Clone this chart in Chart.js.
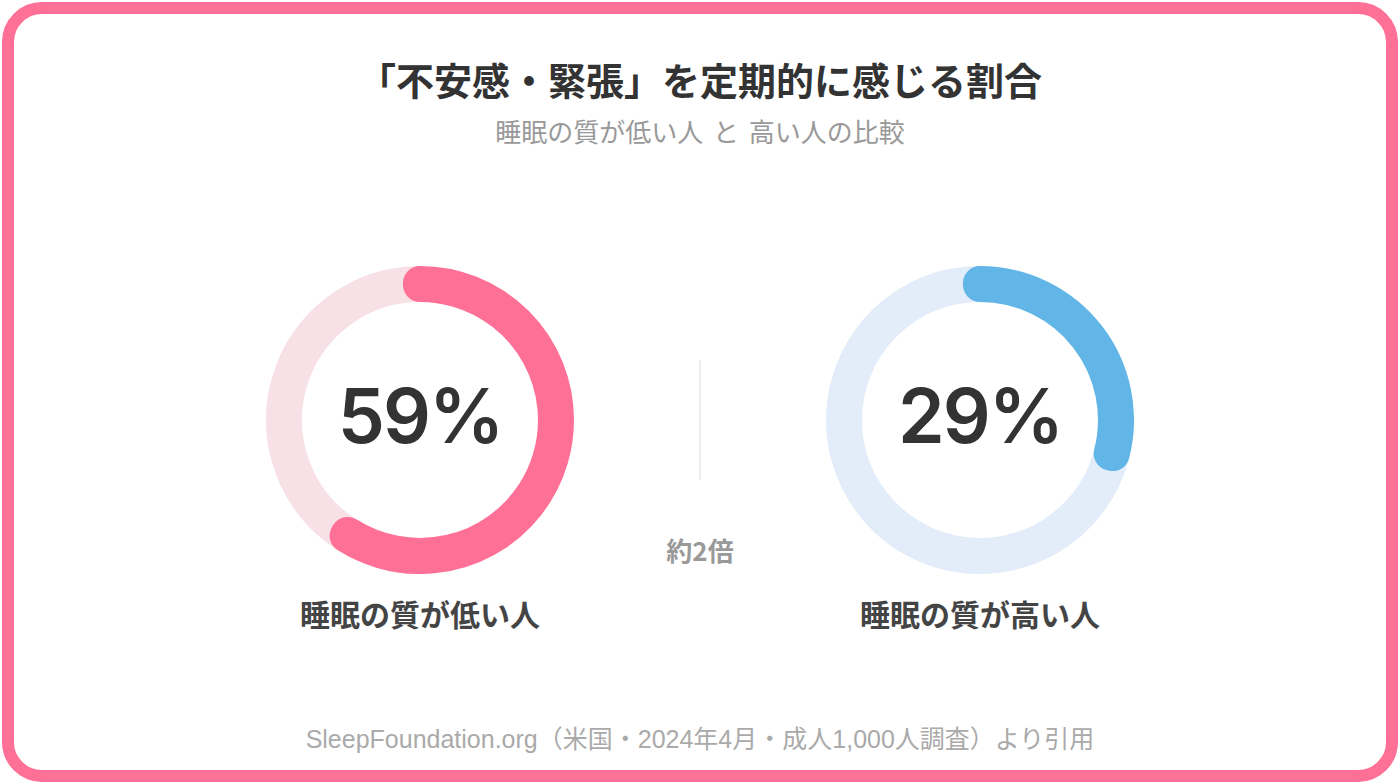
<!DOCTYPE html>
<html lang="ja">
<head>
<meta charset="utf-8">
<script src="https://cdn.jsdelivr.net/npm/chart.js@4.4.1/dist/chart.umd.min.js"></script>
<style>
  html, body { margin: 0; padding: 0; width: 1400px; height: 784px; background: #fff; overflow: hidden; }
  body { position: relative; font-family: "Noto Sans CJK JP", "Noto Sans", sans-serif; }
  .frame { position: absolute; left: 2px; top: 2px; width: 1372px; height: 756px; border: 12px solid #FF7096; border-radius: 40px; }
  .txt { position: absolute; left: 0; width: 1400px; text-align: center; white-space: nowrap; }
  #title { top: 54px; font-size: 38px; line-height: 50px; font-weight: 700; color: #333; }
  #subtitle { top: 113px; font-size: 26px; line-height: 36px; font-weight: 400; color: #999; word-spacing: 4px; }
  .ring { position: absolute; top: 266px; width: 308px; height: 308px; }
  .ring canvas { position: absolute; left: 0; top: 0; }
  .pct { position: absolute; left: 0; top: 0; width: 308px; line-height: 300px; text-align: center;
         font-family: Inter, "Liberation Sans", sans-serif; font-weight: 600; font-size: 75px; color: #333; letter-spacing: -2px; }
  .label { position: absolute; top: 591px; width: 400px; text-align: center; font-size: 30px; line-height: 44px; font-weight: 700; color: #444; }
  #divider { position: absolute; left: 699px; top: 360px; width: 2px; height: 120px; background: #eeeeee; }
  #ratio { position: absolute; left: 600px; top: 532px; width: 200px; text-align: center; font-size: 26px; line-height: 36px; font-weight: 700; color: #999; }
  #source { top: 722px; font-family: "Liberation Sans", "Noto Sans CJK JP", sans-serif; font-size: 25px; line-height: 34px; color: #aaa; }
</style>
</head>
<body>
<div class="frame"></div>
<div class="txt" id="title"></div>
<div class="txt" id="subtitle"></div>
<div id="divider"></div>
<div id="ratio"></div>
<div class="txt" id="source"></div>
<script>
// data
const titleText = '「不安感・緊張」を定期的に感じる割合';
const subtitleText = '睡眠の質が低い人 と 高い人の比較';
const groups = ['睡眠の質が低い人', '睡眠の質が高い人'];
const percentages = [59, 29];
const ratioText = '約2倍';
const sourceText = 'SleepFoundation.org（米国・2024年4月・成人1,000人調査）より引用';

const mainColors = ['#FF7096', '#62B6E7'];
const trackColors = ['#F7E1E7', '#E3EDF9'];
const centersX = [420, 980];

document.getElementById('title').textContent = titleText;
document.getElementById('subtitle').textContent = subtitleText;
document.getElementById('ratio').textContent = ratioText;
document.getElementById('source').textContent = sourceText;

groups.forEach((name, i) => {
  const pct = percentages[i];
  const wrap = document.createElement('div');
  wrap.className = 'ring';
  wrap.style.left = (centersX[i] - 154) + 'px';
  const canvas = document.createElement('canvas');
  canvas.width = 308; canvas.height = 308;
  wrap.appendChild(canvas);
  const center = document.createElement('div');
  center.className = 'pct';
  center.textContent = pct + '%';
  wrap.appendChild(center);
  document.body.appendChild(wrap);

  const lab = document.createElement('div');
  lab.className = 'label';
  lab.style.left = (centersX[i] - 200) + 'px';
  lab.textContent = name;
  document.body.appendChild(lab);

  // track first, value second so the value's round caps sit on top of the track
  const rest = 100 - pct;
  new Chart(canvas, {
    type: 'doughnut',
    data: {
      labels: ['その他', name],
      datasets: [{
        data: [rest, pct],
        backgroundColor: [trackColors[i], mainColors[i]],
        borderColor: [trackColors[i], mainColors[i]],
        borderWidth: 34,
        borderJoinStyle: 'round',
        borderAlign: 'center'
      }]
    },
    options: {
      responsive: false,
      animation: false,
      events: [],
      rotation: -rest * 3.6,
      cutout: '98.5%',
      layout: { padding: 0 },
      plugins: { legend: { display: false }, tooltip: { enabled: false }, title: { display: false } }
    }
  });
});
</script>
</body>
</html>
